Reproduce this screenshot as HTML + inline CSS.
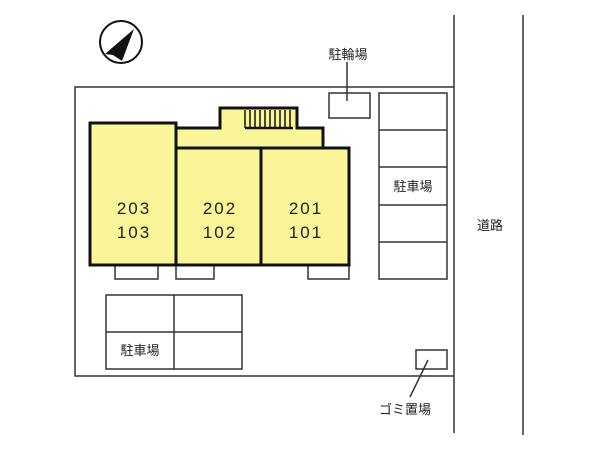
<!DOCTYPE html>
<html><head><meta charset="utf-8"><style>
body{margin:0;background:#fff}
svg text{font-family:"Liberation Sans","Noto Sans CJK JP",sans-serif;fill:#222}
</style></head><body>
<svg width="600" height="450" viewBox="0 0 600 450" xmlns="http://www.w3.org/2000/svg">
<rect width="600" height="450" fill="#fff"/>
<g stroke="#333" stroke-width="1.5" fill="none">
<line x1="454" y1="15" x2="454" y2="433"/>
<line x1="523" y1="15" x2="523" y2="435"/>
<polyline points="454,87 75,87 75,376 454,376"/>
<rect x="329" y="93" width="41" height="25" fill="#fff"/>
<line x1="347" y1="62" x2="347" y2="101"/>
<rect x="379" y="93" width="68" height="186"/>
<line x1="379" y1="130" x2="447" y2="130"/>
<line x1="379" y1="167" x2="447" y2="167"/>
<line x1="379" y1="205" x2="447" y2="205"/>
<line x1="379" y1="242" x2="447" y2="242"/>
<rect x="106" y="295" width="136" height="74"/>
<line x1="174" y1="295" x2="174" y2="369"/>
<line x1="106" y1="332" x2="242" y2="332"/>
<rect x="416" y="350" width="31" height="19"/>
<line x1="428" y1="360" x2="410" y2="397"/>
<rect x="115" y="265" width="43" height="14"/>
<rect x="176" y="265" width="38" height="14"/>
<rect x="308" y="265" width="41" height="14"/>
</g>
<g stroke="#111" stroke-width="3" fill="#fbf59a">
<polygon points="176,148 176,128 220,128 220,108 297,108 297,128 323,128 323,148"/>
<rect x="90" y="123" width="86" height="142"/>
<rect x="176" y="148" width="85" height="117"/>
<rect x="261" y="148" width="88" height="117"/>
</g>
<g stroke="#111" stroke-width="1.5">
<line x1="245" y1="110" x2="245" y2="128"/><line x1="250" y1="110" x2="250" y2="128"/>
<line x1="255" y1="110" x2="255" y2="128"/><line x1="260" y1="110" x2="260" y2="128"/>
<line x1="265" y1="110" x2="265" y2="128"/><line x1="270" y1="110" x2="270" y2="128"/>
<line x1="275" y1="110" x2="275" y2="128"/><line x1="280" y1="110" x2="280" y2="128"/>
<line x1="285" y1="110" x2="285" y2="128"/><line x1="290" y1="110" x2="290" y2="128"/>
<line x1="245" y1="128" x2="293" y2="128" stroke-width="2.5"/>
</g>
<circle cx="121" cy="42" r="21" fill="none" stroke="#111" stroke-width="2"/>
<polygon points="134,29 105,54 113,55 122,61" fill="#111"/>
<g font-size="17" text-anchor="middle" letter-spacing="2">
<text x="134" y="214">203</text><text x="134" y="238">103</text>
<text x="220" y="214">202</text><text x="220" y="238">102</text>
<text x="306" y="214">201</text><text x="306" y="238">101</text>
</g>
<g font-size="13" text-anchor="middle">
<text x="348" y="59">駐輪場</text>
<text x="413" y="191">駐車場</text>
<text x="140" y="355">駐車場</text>
<text x="490" y="230">道路</text>
<text x="405" y="414">ゴミ置場</text>
</g>
</svg>
</body></html>
